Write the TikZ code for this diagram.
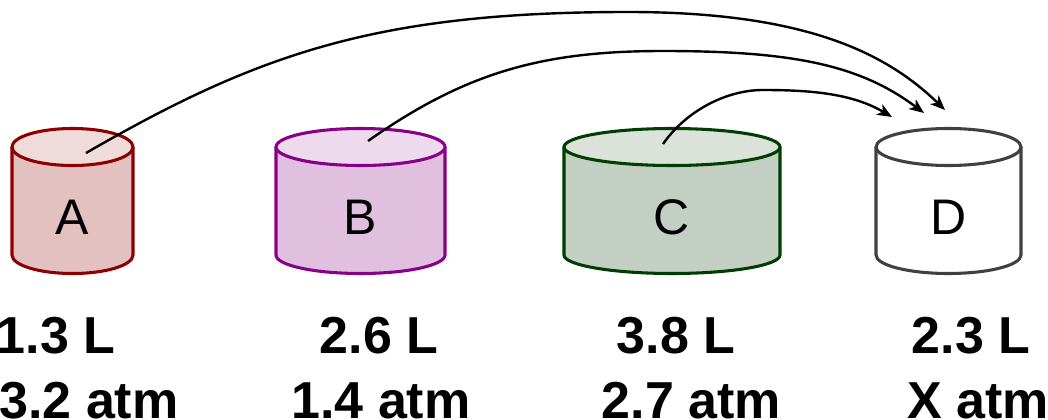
\documentclass[tikz,border=0pt]{standalone}
\usepackage{fontspec}
\setmainfont{Liberation Sans}
\usetikzlibrary{arrows.meta}
\definecolor{redline}{HTML}{8C0000}
\definecolor{redbody}{HTML}{E4C1C1}
\definecolor{redlid}{HTML}{F0DBDB}
\definecolor{purpleline}{HTML}{880088}
\definecolor{purplebody}{HTML}{E1C0DF}
\definecolor{purplelid}{HTML}{EDDAEC}
\definecolor{greenline}{HTML}{003D00}
\definecolor{greenbody}{HTML}{C4CFC4}
\definecolor{greenlid}{HTML}{DAE2DA}
\definecolor{grayline}{HTML}{404040}
\begin{document}
\begin{tikzpicture}[x=0.75pt,y=0.75pt,
    letter/.style={font=\fontsize{37.5}{45}\selectfont},
    amount/.style={font=\fontsize{39}{47}\selectfont\bfseries,anchor=base},
    wall/.style={line width=2.3pt},
    flow/.style={line width=1.8pt,-{Stealth[length=11pt,width=9pt,inset=3pt]}}]
    \useasboundingbox (0,0) rectangle (1048,419);
    \foreach \n/\cx/\rx/\ln/\bd/\ld in {A/72.5/60.5/redline/redbody/redlid,B/360.5/84.5/purpleline/purplebody/purplelid,C/672/108/greenline/greenbody/greenlid,D/948.5/72.5/grayline/white/white}
    {
        \fill[\bd] (\cx-\rx,272) -- (\cx-\rx,164) arc[start angle=180,end angle=360,x radius=\rx,y radius=18.5] -- (\cx+\rx,272) -- cycle;
        \draw[wall,\ln] (\cx-\rx,272) -- (\cx-\rx,164) arc[start angle=180,end angle=360,x radius=\rx,y radius=18.5] -- (\cx+\rx,272);
        \filldraw[wall,draw=\ln,fill=\ld] (\cx,272) ellipse[x radius=\rx,y radius=18.5];
        \node[letter] (\n) at (\cx,202) {\n};
    }
    \foreach \n/\v/\vx/\p/\px in {A/1.3/56/3.2/89,B/2.6/379/1.4/381,C/3.8/676/2.7/691.5,D/2.3/971/X/978}
    {
        \node[amount] (vol\n) at (\vx,66) {\v\ L};
        \node[amount] (pres\n) at (\px,1) {\p\ atm};
    }
    \coordinate (Atop) at (86,266);
    \coordinate (Btop) at (368,278);
    \coordinate (Ctop) at (663,275);
    \coordinate (D1) at (945,309);
    \coordinate (D2) at (924,306);
    \coordinate (D3) at (892,302);
    \draw[flow] (Atop) .. controls (259,366) and (378,407) .. (628,407) .. controls (808,407) and (887.5,364.6) .. (D1);
    \draw[flow] (Btop) .. controls (466,347) and (543,368) .. (663,368) .. controls (793,368) and (860,354) .. (D2);
    \draw[flow] (Ctop) .. controls (686,308) and (726,329) .. (763,329) .. controls (813,329) and (853,325) .. (D3);
\end{tikzpicture}
\end{document}
